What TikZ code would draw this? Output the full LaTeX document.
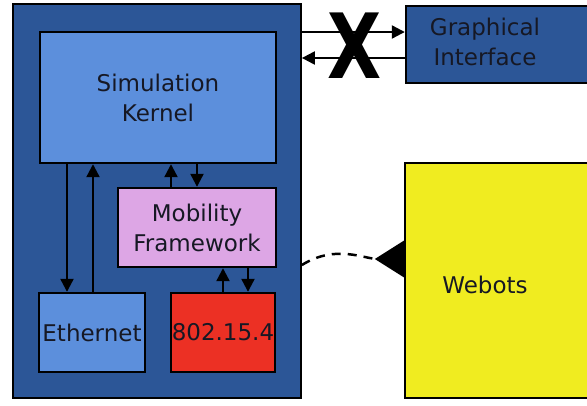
\documentclass[tikz,border=0pt]{standalone}
\usepackage{fontspec}
\setmainfont{DejaVu Sans}
\usetikzlibrary{arrows.meta}

\definecolor{darkblue}{RGB}{44,86,151}
\definecolor{lightblue}{RGB}{92,143,220}
\definecolor{lavender}{RGB}{221,166,229}
\definecolor{redbox}{RGB}{236,48,36}
\definecolor{yellowbox}{RGB}{240,236,32}
\definecolor{textdark}{RGB}{22,24,36}

\begin{document}
\begin{tikzpicture}
[
	x=1pt,y=-1pt,
	font=\fontsize{23}{30}\selectfont,
	box/.style={rectangle,draw=black,line width=2.4pt,inner sep=0pt,align=center,text=textdark},
	arr/.style={line width=2.2pt,-{Triangle[length=13pt,width=13pt]}}
]

	\useasboundingbox (0,0) rectangle (587,405);

	% outer frame and the boxes inside it
	\node[box,fill=darkblue,line width=1.8pt,minimum width=288pt,minimum height=394pt] (omnet) at (157,201) {};
	\node[box,fill=lightblue,minimum width=236pt,minimum height=131pt] (kernel) at (158,97.5) {Simulation\\Kernel};
	\node[box,fill=lavender,minimum width=158pt,minimum height=79pt] (mobility) at (197,227.5) {Mobility\\Framework};
	\node[box,fill=lightblue,minimum width=106pt,minimum height=79pt] (ethernet) at (92,332.5) {Ethernet};
	\node[box,fill=redbox,minimum width=104pt,minimum height=79pt] (zigbee) at (223,332.5) {802.15.4};

	% boxes on the right
	\node[box,fill=darkblue,minimum width=194pt,minimum height=77pt] (gui) at (503,44.5) {};
	\node[text=textdark,align=center] (gui-text) at (485,42) {Graphical\\Interface};
	\node[box,fill=yellowbox,minimum width=195pt,minimum height=235pt] (webots) at (502.5,280.5) {};
	\node[text=textdark] (webots-text) at (485,285) {Webots};

	% links inside the frame
	\draw[arr] (kernel.south -| 67,0) -- (ethernet.north -| 67,0);
	\draw[arr] (ethernet.north -| 93,0) -- (kernel.south -| 93,0);
	\draw[arr] (mobility.north -| 171,0) -- (kernel.south -| 171,0);
	\draw[arr] (kernel.south -| 197,0) -- (mobility.north -| 197,0);
	\draw[arr] (zigbee.north -| 223,0) -- (mobility.south -| 223,0);
	\draw[arr] (mobility.south -| 248,0) -- (zigbee.north -| 248,0);

	% links to the gui, crossed out
	\draw[arr] (omnet.east |- 0,32) -- (gui.west |- 0,32);
	\draw[arr] (gui.west |- 0,58) -- (omnet.east |- 0,58);
	\node[xscale=0.78,font=\fontsize{90}{90}\selectfont\bfseries] (cross) at (355,46) {X};

	% link to webots
	\draw[line width=2.5pt,dash pattern=on 9pt off 7pt,-{Triangle[reversed,length=29pt,width=36pt]}]
	  (omnet.east |- 0,265) to[out=32,in=180] (webots.west |- 0,259);

\end{tikzpicture}
\end{document}
